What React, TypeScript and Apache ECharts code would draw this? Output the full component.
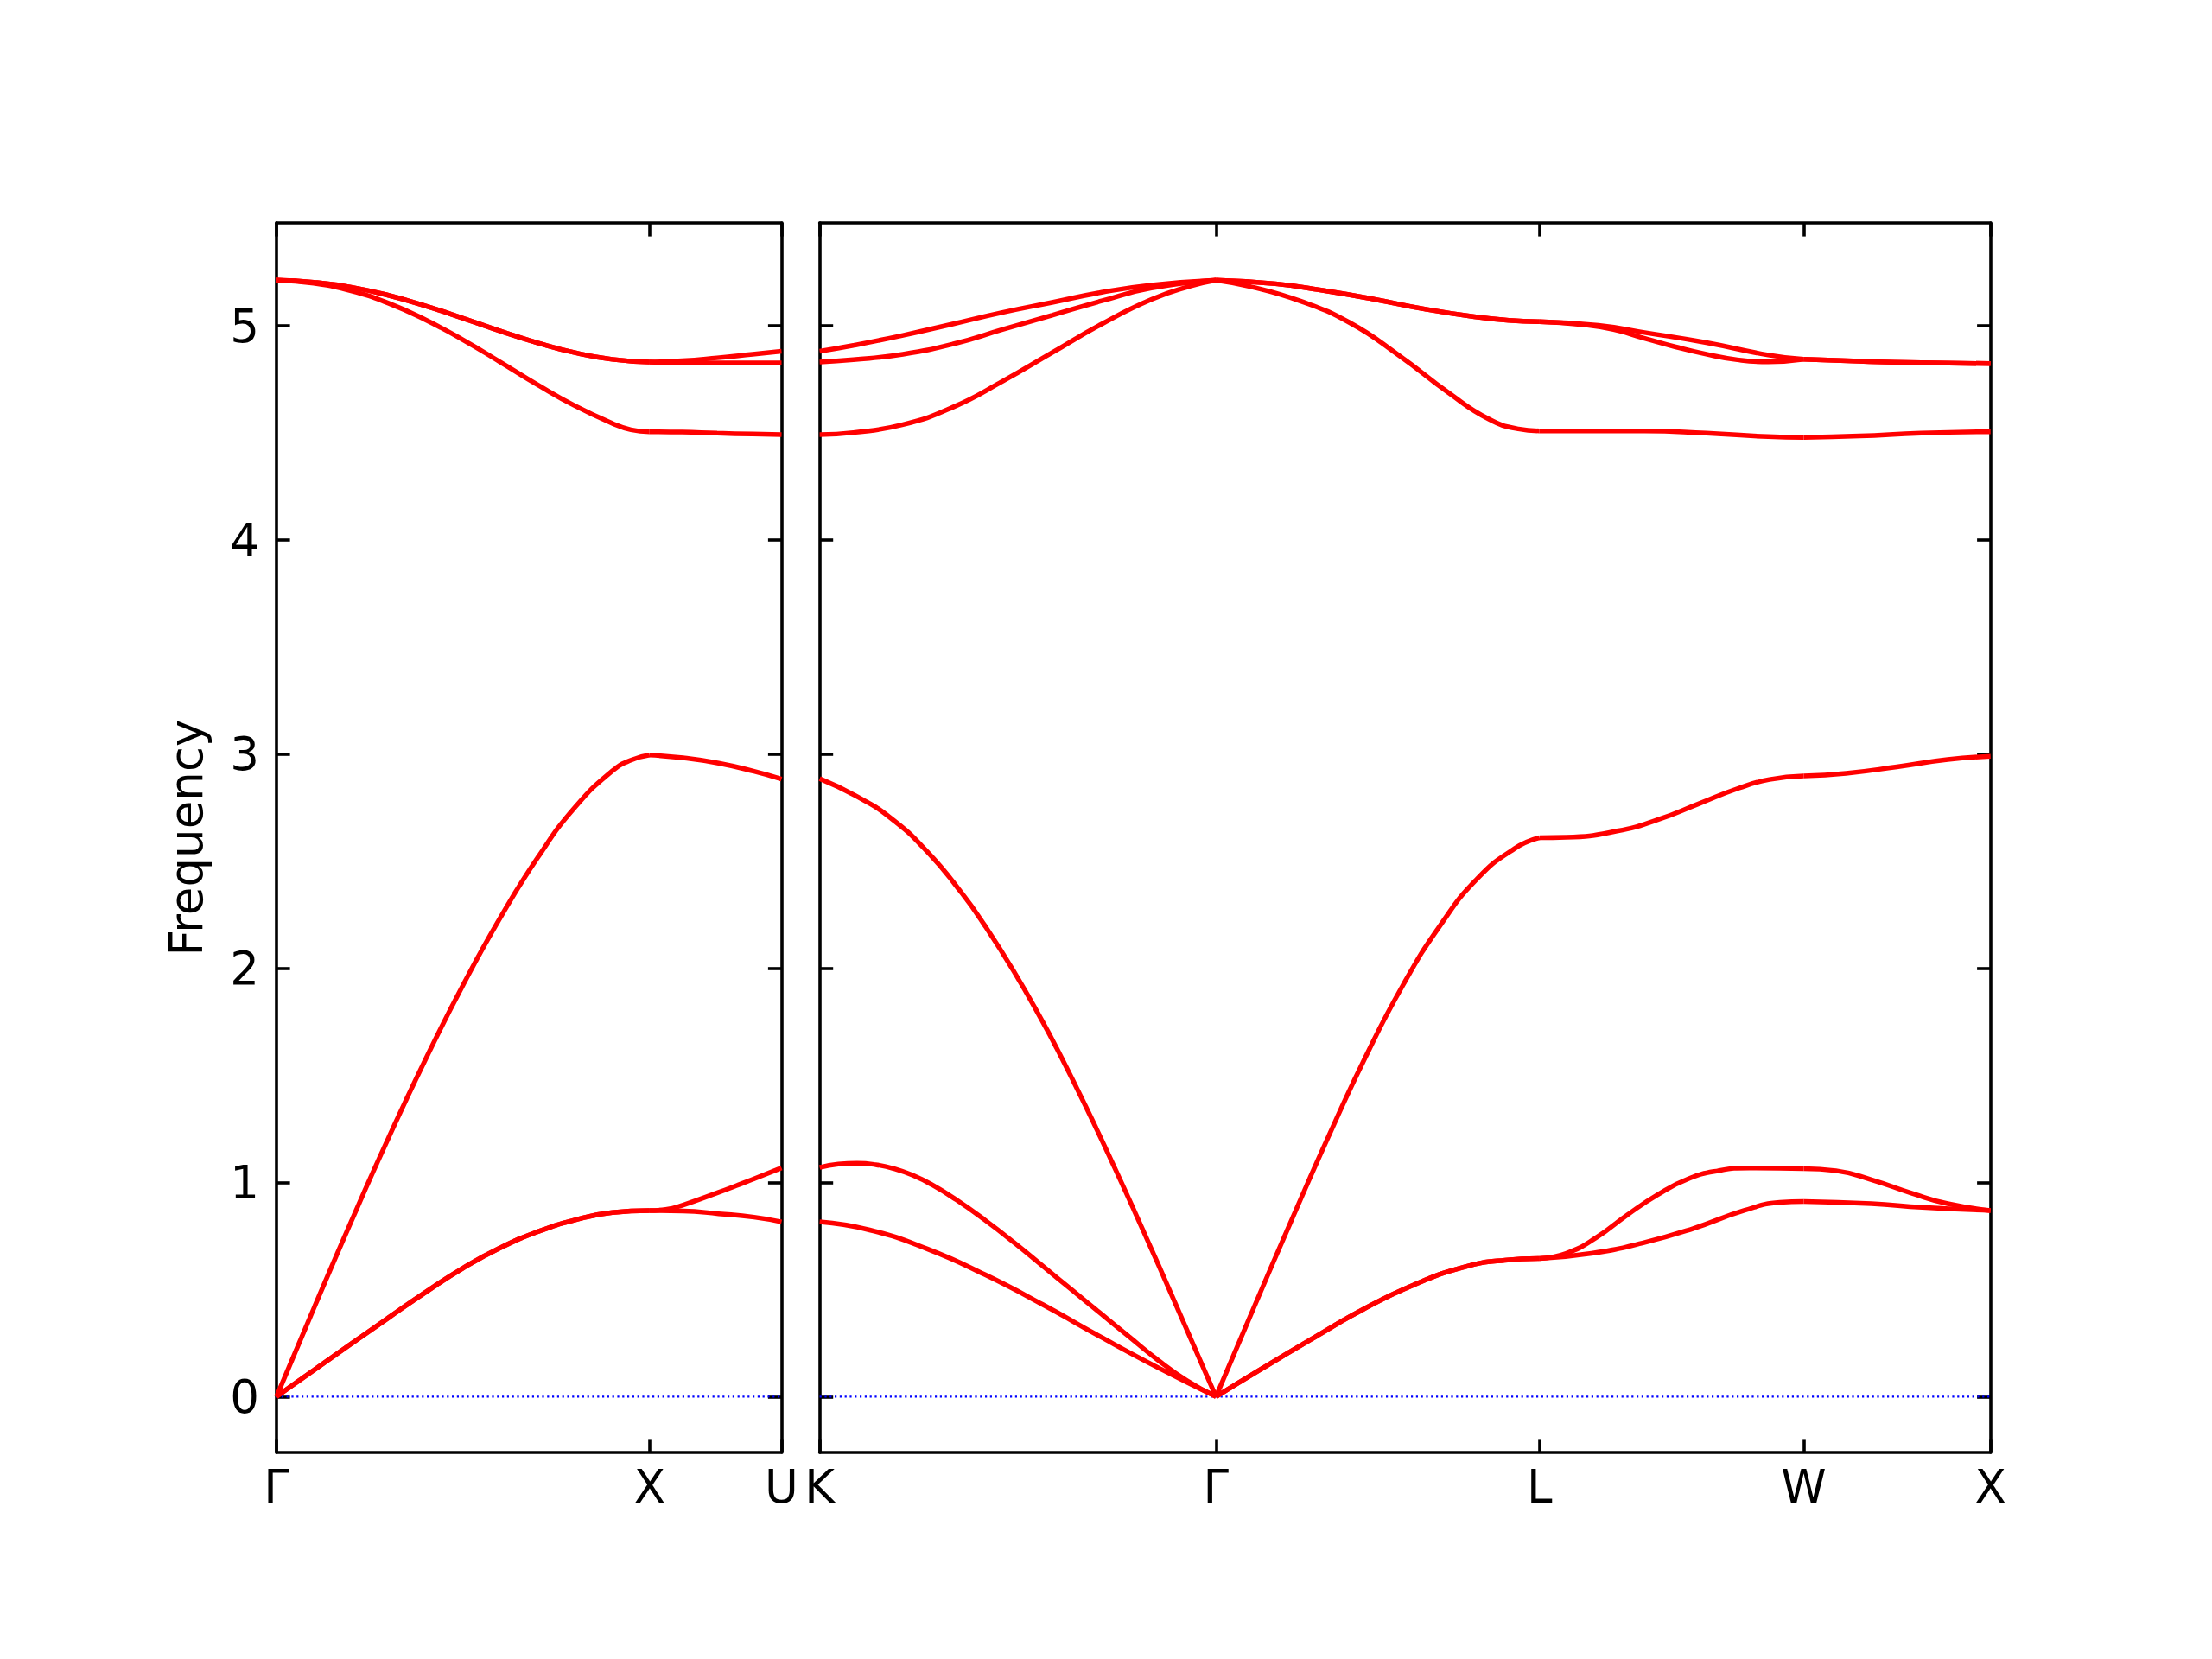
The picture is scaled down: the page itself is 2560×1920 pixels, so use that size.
import { useEffect, useRef } from "react";
import * as echarts from "echarts";

// High-symmetry points (path coordinate) and their labels
const LEFT_K = [0, 1, 1.3536];
const LEFT_LABELS = ["Γ", "X", "U"];
const RIGHT_K = [0, 1.0607, 1.9267, 2.6338, 3.1338];
const RIGHT_LABELS = ["K", "Γ", "L", "W", "X"];
const Y_TICKS = [0, 1, 2, 3, 4, 5];
const Y_MIN = -0.261;
const Y_MAX = 5.481;

// ---- Left panel: Γ – X – U ----
const leftLA = [
  [0, 0], [0.1, 0.412], [0.2, 0.817], [0.3, 1.207], [0.4, 1.577], [0.5, 1.922],
  [0.6, 2.237], [0.7, 2.517], [0.8, 2.752], [0.9, 2.922], [0.95, 2.972], [1, 2.996],
  [1.09, 2.983], [1.185, 2.958], [1.28, 2.92], [1.3536, 2.884],
];
const leftTA1 = [
  [0, 0], [0.1, 0.123], [0.2, 0.246], [0.3, 0.368], [0.4, 0.488], [0.5, 0.6],
  [0.6, 0.695], [0.7, 0.77], [0.8, 0.825], [0.9, 0.86], [1, 0.869],
  [1.09, 0.867], [1.185, 0.854], [1.28, 0.838], [1.3536, 0.816],
];
const leftTA2 = [
  [0, 0], [0.1, 0.123], [0.2, 0.246], [0.3, 0.368], [0.4, 0.488], [0.5, 0.6],
  [0.6, 0.695], [0.7, 0.77], [0.8, 0.825], [0.9, 0.86], [1, 0.869],
  [1.043, 0.874], [1.09, 0.895], [1.185, 0.954], [1.232, 0.985], [1.28, 1.017], [1.3536, 1.068],
];
const leftTO1 = [
  [0, 5.214], [0.1, 5.204], [0.2, 5.181], [0.3, 5.143], [0.4, 5.093], [0.5, 5.036],
  [0.6, 4.976], [0.7, 4.921], [0.8, 4.875], [0.9, 4.844], [1, 4.831],
  [1.087, 4.837], [1.181, 4.851], [1.276, 4.868], [1.3536, 4.882],
];
const leftTO2 = [
  [0, 5.214], [0.1, 5.204], [0.2, 5.181], [0.3, 5.143], [0.4, 5.093], [0.5, 5.036],
  [0.6, 4.976], [0.7, 4.921], [0.8, 4.875], [0.9, 4.844], [1, 4.831],
  [1.087, 4.828], [1.181, 4.827], [1.3536, 4.827],
];
const leftLO = [
  [0, 5.214], [0.1, 5.199], [0.2, 5.164], [0.3, 5.106], [0.4, 5.028], [0.5, 4.935],
  [0.6, 4.831], [0.7, 4.725], [0.8, 4.627], [0.9, 4.545], [0.95, 4.515], [1, 4.506],
  [1.087, 4.504], [1.181, 4.499], [1.276, 4.495], [1.3536, 4.492],
];

// ---- Right panel: K – Γ – L – W – X ----
const rightLA = [
  [0, 2.886], [0.095, 2.807], [0.188, 2.705], [0.288, 2.545], [0.381, 2.35], [0.442, 2.2],
  [0.52, 1.985], [0.597, 1.75], [0.635, 1.625], [0.713, 1.352], [0.79, 1.067], [0.867, 0.771],
  [0.944, 0.467], [1.0607, 0],
  [1.1607, 0.41], [1.2607, 0.815], [1.3607, 1.21], [1.4607, 1.585], [1.5607, 1.92],
  [1.6607, 2.2], [1.7607, 2.42], [1.8607, 2.56], [1.9267, 2.61],
  [1.997, 2.612], [2.134, 2.641], [2.243, 2.694], [2.352, 2.768], [2.461, 2.842], [2.542, 2.882],
  [2.6338, 2.899],
  [2.747, 2.911], [2.883, 2.941], [3.019, 2.975], [3.1338, 2.99],
];
const rightTA1 = [
  [0, 1.07], [0.05, 1.086], [0.1, 1.09], [0.15, 1.083], [0.2, 1.064], [0.25, 1.033],
  [0.3, 0.99], [0.365, 0.92], [0.442, 0.825], [0.52, 0.72], [0.597, 0.61], [0.674, 0.5],
  [0.751, 0.39], [0.828, 0.28], [0.906, 0.17], [0.983, 0.075], [1.0607, 0],
  [1.18, 0.127], [1.316, 0.268], [1.452, 0.405], [1.589, 0.521], [1.725, 0.605], [1.834, 0.637],
  [1.9267, 0.645],
  [1.998, 0.669], [2.079, 0.743], [2.161, 0.848], [2.243, 0.943], [2.325, 1.017], [2.406, 1.055],
  [2.488, 1.068], [2.6338, 1.065],
  [2.72, 1.055], [2.815, 1.013], [2.924, 0.949], [3.019, 0.901], [3.1338, 0.869],
];
const rightTA2 = [
  [0, 0.816], [0.134, 0.778], [0.288, 0.69], [0.442, 0.57], [0.597, 0.43], [0.751, 0.28],
  [0.906, 0.135], [1.0607, 0],
  [1.18, 0.127], [1.316, 0.268], [1.452, 0.405], [1.589, 0.521], [1.725, 0.605], [1.834, 0.637],
  [1.9267, 0.645],
  [2.066, 0.669], [2.202, 0.717], [2.338, 0.785], [2.474, 0.869], [2.57, 0.907], [2.6338, 0.911],
  [2.815, 0.901], [2.951, 0.884], [3.1338, 0.869],
];
const rightTO1 = [
  [0, 4.882], [0.09, 4.909], [0.223, 4.956], [0.356, 5.009], [0.489, 5.063], [0.622, 5.11],
  [0.755, 5.157], [0.888, 5.191], [1.0607, 5.214],
  [1.22, 5.197], [1.353, 5.164], [1.486, 5.124], [1.619, 5.079], [1.752, 5.043], [1.845, 5.026],
  [1.9267, 5.02],
  [2.084, 5.003], [2.208, 4.969], [2.373, 4.922], [2.539, 4.864], [2.6338, 4.844],
  [2.783, 4.835], [2.948, 4.828], [3.1338, 4.824],
];
const rightTO2 = [
  [0, 4.831], [0.09, 4.842], [0.223, 4.868], [0.356, 4.915], [0.489, 4.983], [0.622, 5.05],
  [0.755, 5.117], [0.888, 5.177], [1.0607, 5.214],
  [1.22, 5.197], [1.353, 5.164], [1.486, 5.124], [1.619, 5.079], [1.752, 5.043], [1.845, 5.026],
  [1.9267, 5.02],
  [2.042, 5.006], [2.125, 4.983], [2.208, 4.942], [2.291, 4.902], [2.373, 4.868], [2.456, 4.842],
  [2.539, 4.832], [2.6338, 4.844],
  [2.783, 4.835], [2.948, 4.828], [3.1338, 4.824],
];
const rightLO = [
  [0, 4.492], [0.09, 4.502], [0.223, 4.539], [0.356, 4.62], [0.489, 4.741], [0.622, 4.875],
  [0.755, 5.009], [0.888, 5.124], [0.994, 5.187], [1.0607, 5.214],
  [1.152, 5.184], [1.285, 5.117], [1.418, 5.016], [1.551, 4.862], [1.684, 4.687], [1.79, 4.566],
  [1.87, 4.519], [1.9267, 4.51],
  [2.042, 4.51], [2.208, 4.51], [2.373, 4.499], [2.539, 4.483], [2.6338, 4.479],
  [2.783, 4.486], [2.948, 4.499], [3.1338, 4.506],
];

const LEFT_BANDS = [leftLA, leftTA1, leftTA2, leftTO1, leftTO2, leftLO];
const RIGHT_BANDS = [rightLA, rightTA1, rightTA2, rightTO1, rightTO2, rightLO];

function splitAt(points: number[][], breaks: number[]) {
  const segs: number[][][] = [];
  let cur: number[][] = [];
  for (const p of points) {
    cur.push(p);
    if (cur.length > 1 && breaks.some((b) => Math.abs(b - p[0]) < 1e-6)) {
      segs.push(cur);
      cur = [p];
    }
  }
  if (cur.length > 1) segs.push(cur);
  return segs;
}

const FONT = "DejaVu Sans";
const FS = 53;
const AX_W = 3.6;
const TICK_LEN = 15.6;

function labelFor(ks: number[], labels: string[]) {
  return (v: number) => {
    const i = ks.findIndex((k) => Math.abs(k - v) < 1e-4);
    return i >= 0 ? labels[i] : "";
  };
}

function xAxisDef(grid: number, pos: "top" | "bottom", ks: number[], labels: string[]) {
  return {
    type: "value",
    gridIndex: grid,
    position: pos,
    min: ks[0],
    max: ks[ks.length - 1],
    axisLine: { show: true, onZero: false, lineStyle: { color: "#000", width: AX_W } },
    axisTick: {
      show: true,
      inside: true,
      length: TICK_LEN,
      customValues: ks,
      lineStyle: { color: "#000", width: AX_W },
    },
    axisLabel: {
      show: pos === "bottom",
      customValues: ks,
      formatter: labelFor(ks, labels),
      fontFamily: FONT,
      fontSize: FS,
      color: "#000",
      margin: 13,
    },
    splitLine: { show: false },
  };
}

function yAxisDef(grid: number, pos: "left" | "right", showLabels: boolean, withName: boolean) {
  return {
    type: "value",
    gridIndex: grid,
    position: pos,
    min: Y_MIN,
    max: Y_MAX,
    name: withName ? "Frequency" : "",
    nameLocation: "middle",
    nameRotate: 90,
    nameGap: 78,
    nameTextStyle: { fontFamily: FONT, fontSize: FS, color: "#000" },
    axisLine: { show: true, onZero: false, lineStyle: { color: "#000", width: AX_W } },
    axisTick: {
      show: true,
      inside: true,
      length: TICK_LEN,
      customValues: Y_TICKS,
      lineStyle: { color: "#000", width: AX_W },
    },
    axisLabel: {
      show: showLabels,
      customValues: Y_TICKS,
      formatter: (v: number) => String(Math.round(v)),
      fontFamily: FONT,
      fontSize: FS,
      color: "#000",
      margin: 20,
    },
    splitLine: { show: false },
  };
}

export default function App() {
  const ref = useRef<HTMLDivElement>(null);
  useEffect(() => {
    if (!ref.current) return;
    const chart = echarts.init(ref.current, null, { renderer: "svg" });
    const series: any[] = [];
    const addBands = (bands: number[][][], breaks: number[], xi: number, yi: number) => {
      bands.forEach((band) => {
        splitAt(band, breaks).forEach((seg) => {
          series.push({
            type: "line",
            xAxisIndex: xi,
            yAxisIndex: yi,
            data: seg,
            symbol: "none",
            showSymbol: false,
            smooth: 0.5,
            silent: true,
            z: 3,
            lineStyle: { color: "#ff0000", width: 5.5 },
          });
        });
      });
    };
    const zeroLine = (ks: number[], xi: number, yi: number) => ({
      type: "line",
      xAxisIndex: xi,
      yAxisIndex: yi,
      data: [[ks[0], 0], [ks[ks.length - 1], 0]],
      symbol: "none",
      silent: true,
      z: 2,
      lineStyle: { color: "#0000ff", width: 2.2, type: [2.2, 3.6] },
    });
    series.push(zeroLine(LEFT_K, 0, 0));
    series.push(zeroLine(RIGHT_K, 2, 2));
    addBands(LEFT_BANDS, LEFT_K, 0, 0);
    addBands(RIGHT_BANDS, RIGHT_K, 2, 2);

    chart.setOption({
      animation: false,
      backgroundColor: "#ffffff",
      grid: [
        { left: 320, top: 258, width: 584.5, height: 1423, containLabel: false },
        { left: 948.6, top: 258, width: 1355.1, height: 1423, containLabel: false },
      ],
      xAxis: [
        xAxisDef(0, "bottom", LEFT_K, LEFT_LABELS),
        xAxisDef(0, "top", LEFT_K, LEFT_LABELS),
        xAxisDef(1, "bottom", RIGHT_K, RIGHT_LABELS),
        xAxisDef(1, "top", RIGHT_K, RIGHT_LABELS),
      ],
      yAxis: [
        yAxisDef(0, "left", true, true),
        yAxisDef(0, "right", false, false),
        yAxisDef(1, "left", false, false),
        yAxisDef(1, "right", false, false),
      ],
      series,
    });
    return () => chart.dispose();
  }, []);
  return (
    <div
      ref={ref}
      style={{ position: "absolute", left: 0, top: 0, width: 2560, height: 1920, background: "#fff" }}
    />
  );
}
